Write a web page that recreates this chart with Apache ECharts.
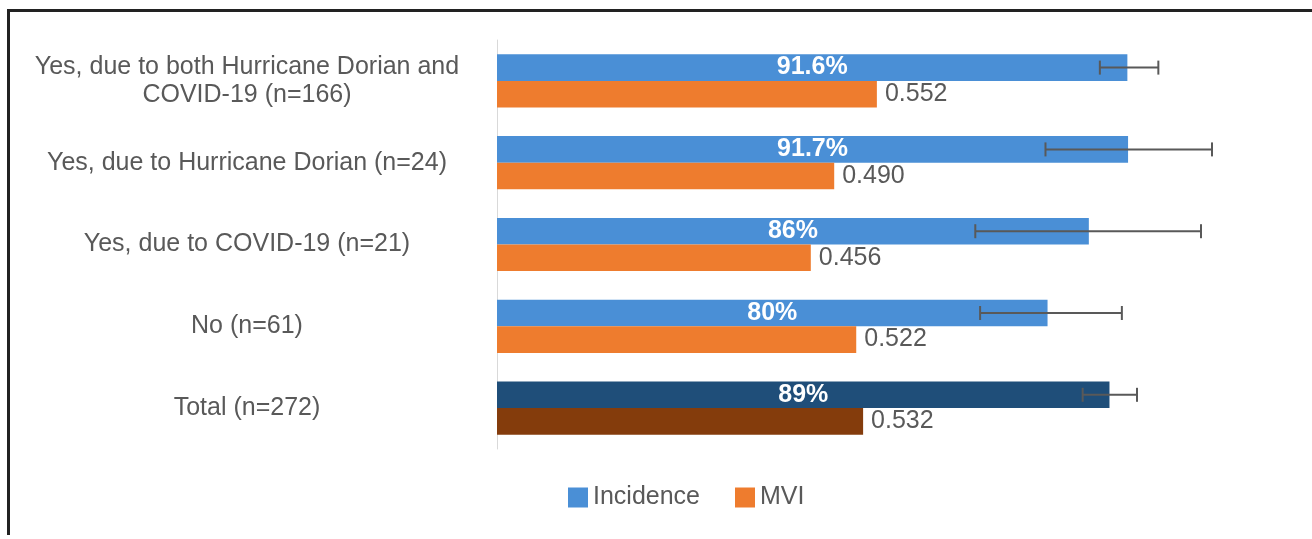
<!DOCTYPE html>
<html>
<head>
<meta charset="utf-8">
<script src="https://cdn.jsdelivr.net/npm/echarts@6/dist/echarts.min.js"></script>
<style>
	html, body { margin: 0; padding: 0; background: #fff; }
	#chart { width: 1312px; height: 539px; }
	#frame {
		position: absolute; left: 7px; top: 9px; right: -10px; bottom: 4px;
		border-left: 3px solid #222; border-top: 3px solid #222;
		pointer-events: none;
	}
</style>
</head>
<body>
<div id="chart"></div>
<div id="frame"></div>
<script>
// data
const categories = [
	"Yes, due to both Hurricane Dorian and\nCOVID-19 (n=166)",
	"Yes, due to Hurricane Dorian (n=24)",
	"Yes, due to COVID-19 (n=21)",
	"No (n=61)",
	"Total (n=272)",
];
const incidence = [0.916, 0.917, 0.86, 0.8, 0.89];
const incidenceLabels = ["91.6%", "91.7%", "86%", "80%", "89%"];
const mvi = [0.552, 0.49, 0.456, 0.522, 0.532];
const ciLow = [0.876, 0.797, 0.695, 0.702, 0.851];
const ciHigh = [0.961, 1.039, 1.023, 0.908, 0.93];

const font = "'Liberation Sans', Arial, sans-serif";
const grey = "#595959";
const blue = "#4a8fd6", darkBlue = "#1f4e79";
const orange = "#ee7c2e", darkOrange = "#843c0c";
const totalIdx = categories.length - 1;

const myChart = echarts.init(document.getElementById("chart"), null, { renderer: "canvas" });

myChart.setOption({
	animation: false,
	textStyle: { fontFamily: font },
	grid: { left: 497, right: 58, top: 40, bottom: 90, containLabel: false },
	legend: {
		data: ["Incidence", "MVI"],
		left: 563,
		top: 480,
		icon: "rect",
		itemWidth: 20,
		itemHeight: 20,
		itemGap: 35,
		textStyle: { fontSize: 25, color: grey, fontFamily: font },
	},
	xAxis: {
		type: "value",
		min: 0,
		max: 1.1,
		show: false,
		splitLine: { show: false },
	},
	yAxis: {
		type: "category",
		data: categories,
		inverse: true,
		axisTick: { show: false },
		axisLine: { show: true, lineStyle: { color: "#d9d9d9", width: 1 } },
		axisLabel: {
			align: "center",
			margin: 250,
			fontSize: 25,
			lineHeight: 28,
			color: grey,
			fontFamily: font,
		},
	},
	series: [
		{
			name: "Incidence",
			type: "bar",
			barGap: "0%",
			barCategoryGap: "35%",
			itemStyle: { color: blue },
			data: incidence.map((v, i) =>
				i === totalIdx ? { value: v, itemStyle: { color: darkBlue } } : v
			),
			label: {
				show: true,
				position: "inside",
				color: "#fff",
				fontWeight: "bold",
				fontSize: 25,
				fontFamily: font,
				formatter: (p) => incidenceLabels[p.dataIndex],
			},
			z: 2,
		},
		{
			name: "MVI",
			type: "bar",
			itemStyle: { color: orange },
			data: mvi.map((v, i) =>
				i === totalIdx ? { value: v, itemStyle: { color: darkOrange } } : v
			),
			label: {
				show: true,
				position: "right",
				distance: 8,
				color: grey,
				fontSize: 25,
				fontFamily: font,
				formatter: (p) => p.value.toFixed(3),
			},
			z: 2,
		},
		{
			name: "ci",
			type: "custom",
			z: 5,
			encode: { x: [0, 1], y: 2 },
			data: ciLow.map((l, i) => [l, ciHigh[i], i]),
			renderItem: (params, api) => {
				const band = api.size([0, 1])[1];
				const dy = -band * 0.1625;
				const a = api.coord([api.value(0), api.value(2)]);
				const b = api.coord([api.value(1), api.value(2)]);
				const y = a[1] + dy;
				const cap = 7;
				const style = { stroke: grey, lineWidth: 2 };
				return {
					type: "group",
					children: [
						{ type: "line", shape: { x1: a[0], y1: y, x2: b[0], y2: y }, style },
						{ type: "line", shape: { x1: a[0], y1: y - cap, x2: a[0], y2: y + cap }, style },
						{ type: "line", shape: { x1: b[0], y1: y - cap, x2: b[0], y2: y + cap }, style },
					],
				};
			},
		},
	],
});
</script>
</body>
</html>
